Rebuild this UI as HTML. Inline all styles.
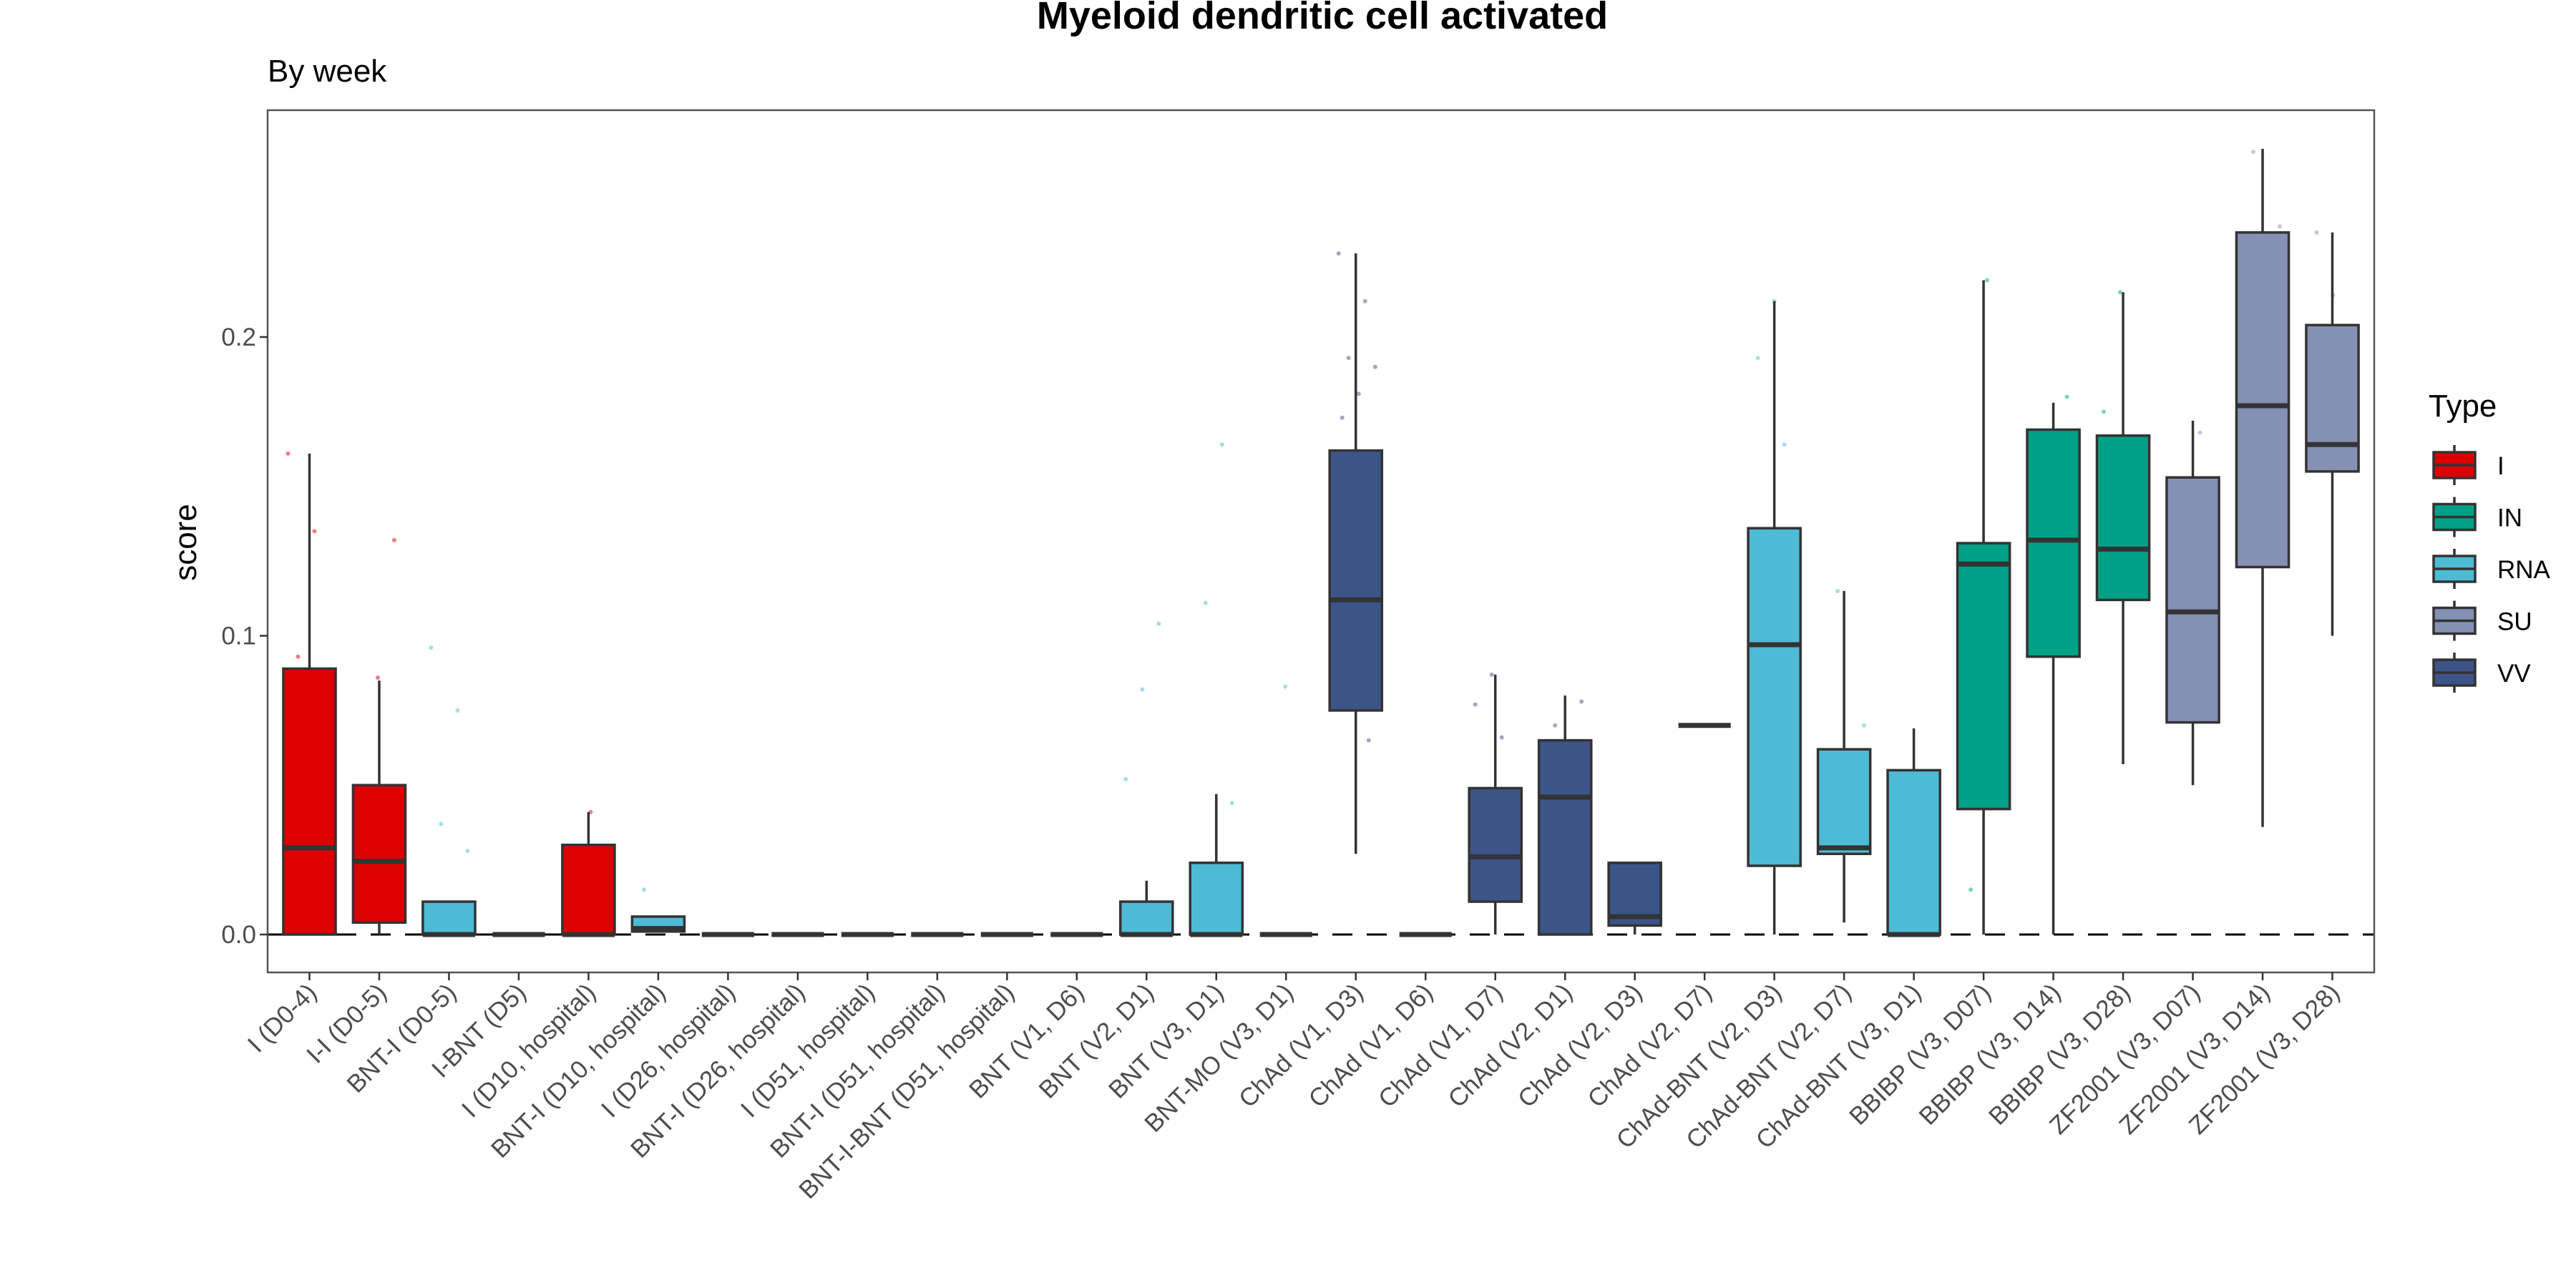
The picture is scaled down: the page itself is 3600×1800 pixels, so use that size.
<!DOCTYPE html>
<html><head><meta charset="utf-8"><style>
html,body{margin:0;padding:0;background:#fff;}
svg{display:block;font-family:"Liberation Sans",Arial,sans-serif;}
</style></head><body>
<svg id="chart" width="3600" height="1800" viewBox="0 0 3600 1800" xmlns="http://www.w3.org/2000/svg">
<text x="1848" y="40" text-anchor="middle" font-size="54" font-weight="bold" fill="#000">Myeloid dendritic cell activated</text>
<text x="374" y="114" font-size="44" fill="#000">By week</text>
<text transform="translate(274,758) rotate(-90)" text-anchor="middle" font-size="44" fill="#000">score</text>
<rect x="374" y="154" width="2944" height="1205" fill="#fff"/>
<g id="plot"></g>
<rect x="374" y="154" width="2944" height="1205" fill="none" stroke="#555" stroke-width="2.5"/>
<g id="legend"></g>
</svg>
<script>
const categories=["I (D0-4)","I-I (D0-5)","BNT-I (D0-5)","I-BNT (D5)","I (D10, hospital)","BNT-I (D10, hospital)","I (D26, hospital)","BNT-I (D26, hospital)","I (D51, hospital)","BNT-I (D51, hospital)","BNT-I-BNT (D51, hospital)","BNT (V1, D6)","BNT (V2, D1)","BNT (V3, D1)","BNT-MO (V3, D1)","ChAd (V1, D3)","ChAd (V1, D6)","ChAd (V1, D7)","ChAd (V2, D1)","ChAd (V2, D3)","ChAd (V2, D7)","ChAd-BNT (V2, D3)","ChAd-BNT (V2, D7)","ChAd-BNT (V3, D1)","BBIBP (V3, D07)","BBIBP (V3, D14)","BBIBP (V3, D28)","ZF2001 (V3, D07)","ZF2001 (V3, D14)","ZF2001 (V3, D28)"];
const types=["I","I","RNA","RNA","I","RNA","I","RNA","I","RNA","RNA","RNA","RNA","RNA","RNA","VV","VV","VV","VV","VV","VV","RNA","RNA","RNA","IN","IN","IN","SU","SU","SU"];
const whiskLow=[0,0,0,0,0,0.001,0,0,0,0,0,0,0,0,0,0.027,0,0,0,0,0.070,0,0.004,0,0,0,0.057,0.050,0.036,0.100];
const q1=[0,0.004,0,0,0,0.001,0,0,0,0,0,0,0,0,0,0.075,0,0.011,0,0.003,0.070,0.023,0.027,0,0.042,0.093,0.112,0.071,0.123,0.155];
const medians=[0.029,0.0245,0,0,0,0.002,0,0,0,0,0,0,0,0,0,0.112,0,0.026,0.046,0.006,0.070,0.097,0.029,0,0.124,0.132,0.129,0.108,0.177,0.164];
const q3=[0.089,0.050,0.011,0,0.030,0.006,0,0,0,0,0,0,0.011,0.024,0,0.162,0,0.049,0.065,0.024,0.070,0.136,0.062,0.055,0.131,0.169,0.167,0.153,0.235,0.204];
const whiskHigh=[0.161,0.085,0.011,0,0.041,0.006,0,0,0,0,0,0,0.018,0.047,0,0.228,0,0.087,0.080,0.024,0.070,0.212,0.115,0.069,0.219,0.178,0.215,0.172,0.263,0.235];
const yTicks=[0,0.1,0.2];
const yTickLabels=["0.0","0.1","0.2"];
const typeNames=["I","IN","RNA","SU","VV"];
const typeColors={I:"#DC0000",IN:"#00A087",RNA:"#4DBBD5",SU:"#8491B4",VV:"#3C5488"};
const pointCat=[0,0,0,1,1,2,2,2,2,4,5,12,12,12,13,13,13,14,15,15,15,15,15,15,15,17,17,17,18,18,21,21,21,22,22,24,24,25,26,26,27,28,28,29,29];
const pointVal=[0.161,0.135,0.093,0.132,0.086,0.096,0.075,0.037,0.028,0.041,0.015,0.104,0.082,0.052,0.164,0.111,0.044,0.083,0.228,0.212,0.193,0.19,0.181,0.173,0.065,0.087,0.077,0.066,0.07,0.078,0.212,0.193,0.164,0.115,0.07,0.219,0.015,0.18,0.215,0.175,0.168,0.262,0.237,0.214,0.235];
const PL=374,PT=154,PW=2944,PH=1205,Y0=1306,YS=4175;
const step=PW/30.2;
function xPos(i){return PL+(i+0.6)*step;}
function yPos(v){return Y0-v*YS;}
const NS="http://www.w3.org/2000/svg";
const svg=document.getElementById('chart');
const plot=document.getElementById('plot');
function mk(tag,attrs,parent){const e=document.createElementNS(NS,tag);for(const k in attrs)e.setAttribute(k,attrs[k]);(parent||plot).appendChild(e);return e;}
// y axis ticks
yTicks.forEach((t,i)=>{
 const tk=mk('line',{x1:PL-11,x2:PL,y1:yPos(t),y2:yPos(t),stroke:"#333","stroke-width":2.5},svg);
 
 
 const tl=mk('text',{x:PL-16,y:yPos(t)+12,"text-anchor":"end","font-size":35,fill:"#4d4d4d"},svg);
 tl.textContent=yTickLabels[i];
 
 
});
// dashed zero line
const zl=mk('line',{x1:PL,x2:PL+PW,y1:yPos(0),y2:yPos(0),stroke:"#000","stroke-width":3,"stroke-dasharray":"28,20"});


// points
pointCat.forEach((c,k)=>{
 const off=((k*37)%60-30);
 const p=mk('circle',{cx:xPos(c)+off,cy:yPos(pointVal[k]),r:3,fill:typeColors[types[c]],opacity:0.5});
 
 
});
const bw=0.75*step;
categories.forEach((c,i)=>{
 const x=xPos(i);
 const g=mk('g',{});
 
 
 if(whiskHigh[i]>q3[i]) mk('line',{x1:x,x2:x,y1:yPos(q3[i]),y2:yPos(whiskHigh[i]),stroke:"#333","stroke-width":3.5},g);
 if(whiskLow[i]<q1[i]) mk('line',{x1:x,x2:x,y1:yPos(q1[i]),y2:yPos(whiskLow[i]),stroke:"#333","stroke-width":3.5},g);
 mk('rect',{x:x-bw/2,y:yPos(q3[i]),width:bw,height:Math.max(0,yPos(q1[i])-yPos(q3[i])),fill:typeColors[types[i]],stroke:"#333","stroke-width":3.5},g);
 mk('line',{x1:x-bw/2,x2:x+bw/2,y1:yPos(medians[i]),y2:yPos(medians[i]),stroke:"#333","stroke-width":7},g);
 const tk=mk('line',{x1:x,x2:x,y1:PT+PH,y2:PT+PH+11,stroke:"#333","stroke-width":2.5},svg);
 
 
 const tl=mk('text',{transform:`translate(${x+12},${PT+PH+30}) rotate(-45)`,"text-anchor":"end","font-size":35,fill:"#4d4d4d"},svg);
 tl.textContent=c;
 
 
});
// legend
const lg=document.getElementById('legend');
const lt=mk('text',{x:3394,y:582,"font-size":44,fill:"#000"},lg);
lt.textContent="Type";


typeNames.forEach((t,i)=>{
 const cy=650+i*72.5;
 const e=mk('g',{},lg);
 
 
 mk('line',{x1:3430,x2:3430,y1:cy-28,y2:cy+28,stroke:"#333","stroke-width":3.5},e);
 mk('rect',{x:3401,y:cy-18,width:58,height:36,fill:typeColors[t],stroke:"#333","stroke-width":3.5},e);
 mk('line',{x1:3401,x2:3459,y1:cy,y2:cy,stroke:"#333","stroke-width":3.5},e);
 const tx=mk('text',{x:3490,y:cy+13,"font-size":35,fill:"#000"},e);
 tx.textContent=t;
});
</script>
</body></html>
